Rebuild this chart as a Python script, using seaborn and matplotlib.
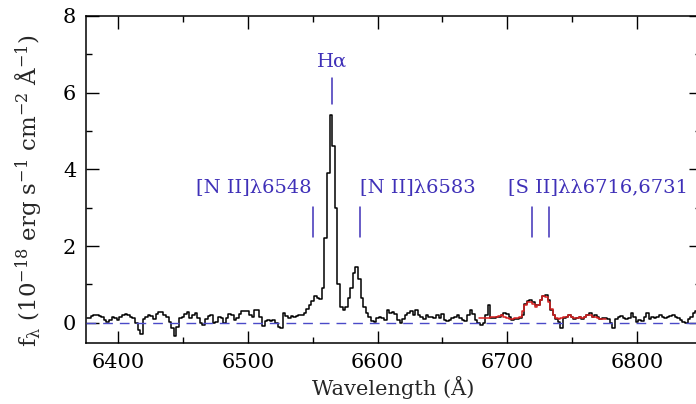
import numpy as np
import pandas as pd
import matplotlib
matplotlib.use("Agg")
import matplotlib.pyplot as plt
import seaborn as sns

# ---------------- data ----------------
wave_start, wave_step = 6376, 2
flux = [
    # 6376-6498
    0.11, 0.12, 0.18, 0.20, 0.20, 0.17, 0.15, 0.08, 0.02, 0.06,
    0.15, 0.12, 0.08, 0.15, 0.20, 0.22, 0.20, 0.14, 0.12, 0.00,
    -0.20, -0.30, 0.10, 0.16, 0.20, 0.18, 0.10, 0.22, 0.29, 0.27,
    0.20, 0.15, 0.03, -0.15, -0.34, -0.10, 0.12, 0.15, 0.22, 0.28,
    0.12, 0.20, 0.24, 0.12, 0.00, -0.05, 0.10, 0.18, 0.20, 0.00,
    0.03, 0.15, 0.12, -0.02, 0.12, 0.22, 0.20, 0.08, 0.12, 0.22,
    0.30, 0.30,
    # 6500-6598
    0.30, 0.20, 0.16, 0.33, 0.32, 0.15, -0.08, 0.05, 0.08, 0.04,
    0.07, 0.00, -0.10, -0.15, 0.26, 0.17, 0.12, 0.18, 0.15, 0.17,
    0.20, 0.20, 0.25, 0.35, 0.45, 0.57, 0.70, 0.65, 0.63, 0.90,
    2.20, 3.90, 5.42, 4.60, 3.00, 1.00, 0.40, 0.33, 0.40, 0.65,
    0.90, 1.30, 1.45, 1.15, 0.65, 0.40, 0.26, 0.16, 0.05, 0.02,
    # 6600-6716
    0.12, 0.14, 0.12, 0.06, 0.32, 0.25, 0.28, 0.22, 0.08, -0.02,
    0.10, 0.20, 0.25, 0.30, 0.20, 0.33, 0.20, 0.15, 0.10, 0.20,
    0.16, 0.14, 0.12, 0.20, 0.12, 0.22, 0.06, 0.04, 0.08, 0.12,
    0.15, 0.20, 0.12, 0.08, 0.05, 0.20, 0.33, 0.22, 0.06, -0.02,
    -0.06, 0.00, 0.20, 0.45, 0.12, 0.12, 0.14, 0.14, 0.20, 0.25,
    0.22, 0.15, 0.06, 0.10, 0.10, 0.12, 0.20, 0.48, 0.56,
    # 6718-6848
    0.59, 0.55, 0.45, 0.45, 0.60, 0.70, 0.72, 0.60, 0.33, 0.20,
    0.10, 0.02, -0.15, 0.12, 0.16, 0.20, 0.15, 0.10, 0.12, 0.14,
    0.10, 0.14, 0.20, 0.25, 0.16, 0.20, 0.14, 0.10, 0.12, 0.12,
    0.10, -0.02, -0.15, 0.10, 0.14, 0.18, 0.12, 0.10, 0.12, 0.25,
    0.16, 0.03, 0.07, 0.05, 0.16, 0.25, 0.10, 0.14, 0.12, 0.15,
    0.20, 0.15, 0.12, 0.16, 0.18, 0.20, 0.15, 0.12, 0.08, 0.03,
    -0.02, 0.10, 0.16, 0.25, 0.30, 0.30,
]
wave = wave_start + wave_step * np.arange(len(flux))

model_start = 6678
model_flux = [
    0.12, 0.12, 0.12, 0.12, 0.13, 0.14, 0.15, 0.14, 0.18, 0.20,
    0.15, 0.12, 0.10, 0.10, 0.12, 0.12, 0.15, 0.30, 0.45, 0.55,
    0.55, 0.50, 0.42, 0.45, 0.60, 0.70, 0.68, 0.55, 0.35, 0.20,
    0.12, 0.10, 0.12, 0.14, 0.16, 0.20, 0.15, 0.12, 0.12, 0.15,
    0.12, 0.14, 0.20, 0.20, 0.14, 0.14, 0.12, 0.10, 0.10, 0.10,
]
model_wave = model_start + wave_step * np.arange(len(model_flux))

line_labels = ["Hα", "[N II]λ6548", "[N II]λ6583", "[S II]λλ6716,6731"]
line_marks = [[6564.8], [6550.0], [6586.2], [6718.7, 6732.3]]

xticks = [6400, 6500, 6600, 6700, 6800]
yticks = [0, 2, 4, 6, 8]

# ---------------- style ----------------
sns.set_style("ticks")
plt.rcParams["font.family"] = ["DejaVu Serif", "DejaVu Sans"]
plt.rcParams["mathtext.fontset"] = "dejavuserif"
plt.rcParams["mathtext.default"] = "regular"

blue = "#3f30b8"
fig = plt.figure(figsize=(6.96, 4.04), dpi=100)
ax = fig.add_axes([86 / 696, 61 / 404, 615 / 696, 327 / 404])

df = pd.DataFrame({"wave": wave, "flux": flux})
dm = pd.DataFrame({"wave": model_wave, "flux": model_flux})
sns.lineplot(data=df, x="wave", y="flux", ax=ax, color="black",
             linewidth=1.1, drawstyle="steps-mid", estimator=None, sort=False)
sns.lineplot(data=dm, x="wave", y="flux", ax=ax, color="#d42020",
             linewidth=1.1, drawstyle="steps-mid", estimator=None, sort=False)
ax.axhline(0, color="#4a4ac8", linestyle=(0, (7, 5)), linewidth=1.0, zorder=5)

ax.set_xlim(6375.3, 6849.3)
ax.set_ylim(-0.53, 8)
ax.set_xticks(xticks)
ax.set_yticks(yticks)
ax.set_xticks(np.arange(6400, 6850, 50), minor=True)
ax.set_yticks(np.arange(-0, 8, 1), minor=True)
ax.tick_params(which="both", direction="in", top=True, right=True,
               labelsize=15, width=1.0, colors="black", pad=7)
ax.tick_params(which="major", length=9)
ax.tick_params(which="minor", length=4.5)
for s in ax.spines.values():
    s.set_linewidth(1.1)
    s.set_color("black")

ax.set_xlabel("Wavelength (Å)", fontsize=15, labelpad=3)
ax.set_ylabel(r"f$_\lambda$ (10$^{-18}$ erg s$^{-1}$ cm$^{-2}$ Å$^{-1}$)",
              fontsize=16.5)
ax.yaxis.set_label_coords(-0.068, 0.465)

# line identifications
mark_lo = [5.70, 2.23, 2.23, 2.23]
mark_hi = [6.38, 3.02, 3.02, 3.02]
for marks, lo, hi in zip(line_marks, mark_lo, mark_hi):
    for m in marks:
        ax.plot([m, m], [lo, hi], color=blue, linewidth=1.1)

ax.text(6564.8, 6.82, line_labels[0], color=blue, fontsize=14,
        ha="center", va="center")
ax.text(6549.5, 3.53, line_labels[1], color=blue, fontsize=14,
        ha="right", va="center")
ax.text(6586.5, 3.53, line_labels[2], color=blue, fontsize=14,
        ha="left", va="center")
ax.text(6700.4, 3.53, line_labels[3], color=blue, fontsize=14,
        ha="left", va="center")

fig.savefig("out.png", dpi=100)
